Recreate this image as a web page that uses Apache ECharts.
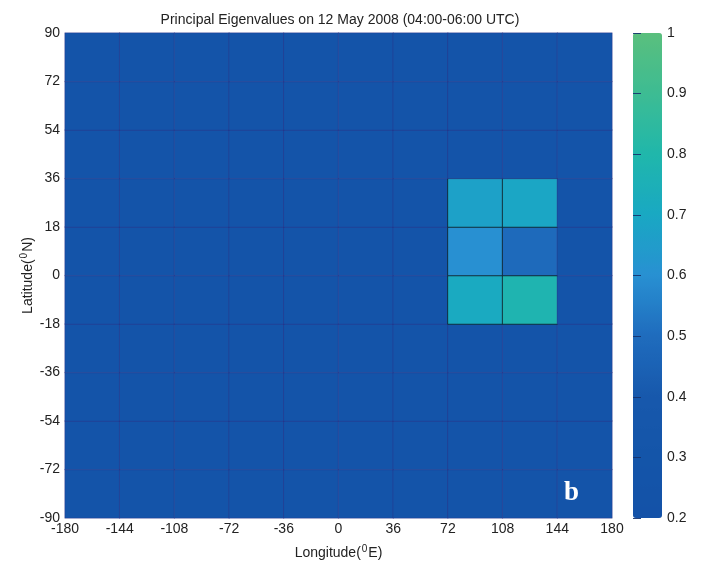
<!DOCTYPE html>
<html>
<head>
<meta charset="utf-8">
<script src="https://cdn.jsdelivr.net/npm/echarts@6/dist/echarts.min.js"></script>
<style>html,body{margin:0;padding:0;background:#fff;}#c{width:705px;height:565px;}</style>
</head>
<body>
<div id="c"></div>
<script>
// Cell centres (degrees)
var lonCenters = [-162, -126, -90, -54, -18, 18, 54, 90, 126, 162];
var latCenters = [-81, -63, -45, -27, -9, 9, 27, 45, 63, 81];
// Eigenvalue rows, listed from south (-81) to north (81), one value per longitude cell
var rowS81 = [0.25, 0.25, 0.25, 0.25, 0.25, 0.25, 0.25, 0.25, 0.25, 0.25];
var rowS63 = [0.25, 0.25, 0.25, 0.25, 0.25, 0.25, 0.25, 0.25, 0.25, 0.25];
var rowS45 = [0.25, 0.25, 0.25, 0.25, 0.25, 0.25, 0.25, 0.25, 0.25, 0.25];
var rowS27 = [0.25, 0.25, 0.25, 0.25, 0.25, 0.25, 0.25, 0.25, 0.25, 0.25];
var rowS9  = [0.25, 0.25, 0.25, 0.25, 0.25, 0.25, 0.25, 0.71, 0.78, 0.25];
var rowN9  = [0.25, 0.25, 0.25, 0.25, 0.25, 0.25, 0.25, 0.60, 0.49, 0.25];
var rowN27 = [0.25, 0.25, 0.25, 0.25, 0.25, 0.25, 0.25, 0.67, 0.69, 0.25];
var rowN45 = [0.25, 0.25, 0.25, 0.25, 0.25, 0.25, 0.25, 0.25, 0.25, 0.25];
var rowN63 = [0.25, 0.25, 0.25, 0.25, 0.25, 0.25, 0.25, 0.25, 0.25, 0.25];
var rowN81 = [0.25, 0.25, 0.25, 0.25, 0.25, 0.25, 0.25, 0.25, 0.25, 0.25];
var colorbarTicks = [0.2, 0.3, 0.4, 0.5, 0.6, 0.7, 0.8, 0.9, 1];

var rows = [rowS81, rowS63, rowS45, rowS27, rowS9, rowN9, rowN27, rowN45, rowN63, rowN81];
var data = [];
rows.forEach(function (row, yi) {
  row.forEach(function (v, xi) {
    var item = { value: [xi, yi, v] };
    if (v > 0.3) item.itemStyle = { borderColor: 'rgba(15,35,45,0.85)', borderWidth: 1 };
    data.push(item);
  });
});

var FONT = '"Liberation Sans", Arial, sans-serif';
var FS = 14;
var supStyle = { fontSize: 10, verticalAlign: 'bottom', padding: [0, 1, 8, 1], color: '#222', fontFamily: FONT };
var tickStyle = { color: 'rgba(20,50,110,0.9)', width: 1 };
var chart = echarts.init(document.getElementById('c'), null, { renderer: 'canvas' });
chart.setOption({
  animation: false,
  backgroundColor: '#ffffff',
  textStyle: { fontFamily: FONT },
  title: {
    text: 'Principal Eigenvalues on 12 May 2008 (04:00-06:00 UTC)',
    left: 335, textAlign: 'center', top: 8,
    textStyle: { fontFamily: FONT, fontSize: FS, fontWeight: 'normal', color: '#222' }
  },
  grid: [
    { left: 65, top: 33, width: 547, height: 485, containLabel: false, outerBoundsMode: 'none' },
    { left: 633, top: 33, width: 29, height: 485, containLabel: false, outerBoundsMode: 'none' }
  ],
  xAxis: [
    { type: 'category', gridIndex: 0, data: lonCenters, show: false },
    { type: 'value', gridIndex: 0, min: -180, max: 180, interval: 36, position: 'bottom',
      axisLine: { show: false }, axisTick: { show: false }, splitLine: { show: false },
      axisLabel: { fontFamily: FONT, fontSize: FS, color: '#222', margin: 4 },
      name: 'Longitude({sup|0}E)', nameLocation: 'middle', nameGap: 26, nameMoveOverlap: false,
      nameTextStyle: { fontFamily: FONT, fontSize: FS, color: '#222', rich: { sup: supStyle } } },
    { type: 'value', gridIndex: 1, min: 0, max: 1, show: false }
  ],
  yAxis: [
    { type: 'category', gridIndex: 0, data: latCenters, show: false },
    { type: 'value', gridIndex: 0, min: -90, max: 90, interval: 18, position: 'left',
      axisLine: { show: false }, axisTick: { show: false }, splitLine: { show: false },
      axisLabel: { fontFamily: FONT, fontSize: FS, color: '#222', margin: 5 },
      name: 'Latitude({sup|0}N)', nameLocation: 'middle', nameGap: 28, nameRotate: 90, nameMoveOverlap: false,
      nameTextStyle: { fontFamily: FONT, fontSize: FS, color: '#222', rich: { sup: supStyle } } },
    { type: 'value', gridIndex: 1, min: 0.2, max: 1, interval: 0.1, position: 'right', offset: -4, z: 10,
      axisLine: { show: false }, splitLine: { show: false },
      axisTick: { show: true, inside: false, length: 4, lineStyle: tickStyle },
      axisLabel: { fontFamily: FONT, fontSize: FS, color: '#222', margin: 9,
        formatter: function (v) { var r = Math.round(v * 10) / 10; return colorbarTicks.indexOf(r) >= 0 ? String(r) : ''; } } },
    { type: 'value', gridIndex: 1, min: 0.2, max: 1, interval: 0.1, position: 'left', offset: -4, z: 10,
      axisLine: { show: false }, splitLine: { show: false }, axisLabel: { show: false },
      axisTick: { show: true, inside: false, length: 4, lineStyle: tickStyle } }
  ],
  visualMap: {
    type: 'continuous', seriesIndex: 0, min: 0.2, max: 1, calculable: false, z: 4,
    orient: 'vertical', left: 633, top: 33, itemWidth: 29, itemHeight: 485, padding: 0,
    inRange: { color: ['#1452a8', '#1455a9', '#1758ac', '#1f6cbd', '#2890d2', '#19a8c3', '#20b7ab', '#3dbc93', '#5abf7d'] },
    hoverLink: false
  },
  graphic: [
    { type: 'text', left: 564, top: 480, z: 100,
      style: { text: 'b', fill: '#ffffff', font: 'bold 27px "Liberation Serif", "DejaVu Serif", serif' } }
  ],
  series: [
    { type: 'heatmap', xAxisIndex: 0, yAxisIndex: 0, data: data,
      itemStyle: { borderColor: 'rgba(60,35,120,0.3)', borderWidth: 1 },
      emphasis: { disabled: true } },
    { type: 'line', xAxisIndex: 2, yAxisIndex: 2, data: [], silent: true }
  ]
});
</script>
</body>
</html>
